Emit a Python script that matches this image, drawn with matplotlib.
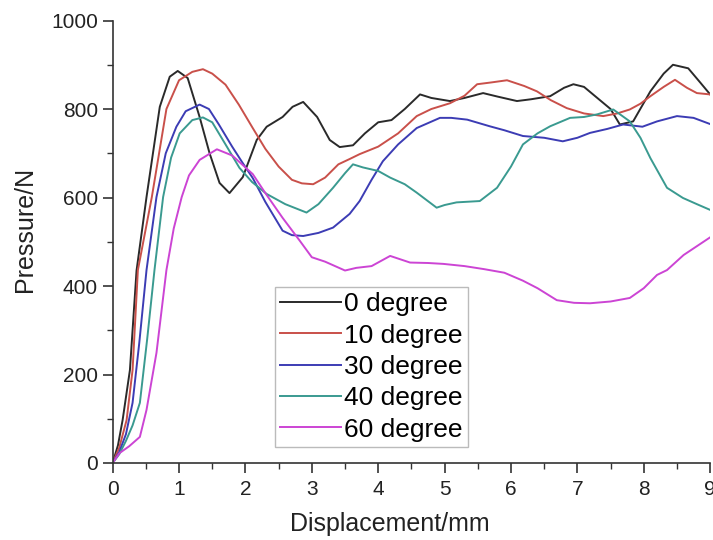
import numpy as np
import matplotlib
matplotlib.use("Agg")
import matplotlib.pyplot as plt
from matplotlib.ticker import MultipleLocator

plt.rcParams['font.family'] = ['Liberation Sans', 'DejaVu Sans']

# displacement (mm) / pressure (N)
black_x = [0, 0.08, 0.15, 0.26, 0.36, 0.51, 0.71, 0.86, 0.98, 1.13, 1.31, 1.46, 1.61, 1.76,
           1.96, 2.17, 2.32, 2.56, 2.71, 2.87, 3.08, 3.27, 3.42, 3.62, 3.8, 4.0, 4.2, 4.4,
           4.63, 4.8, 5.08, 5.3, 5.58, 5.8, 6.09, 6.3, 6.59, 6.8, 6.94, 7.1, 7.3, 7.5,
           7.64, 7.84, 8.1, 8.3, 8.44, 8.67, 8.85, 9.0]
black_y = [0, 40, 97, 210, 435, 601, 805, 873, 886, 870, 782, 700, 633, 610,
           646, 730, 760, 782, 805, 816, 782, 730, 714, 718, 745, 770, 775, 800,
           833, 825, 818, 825, 836, 828, 818, 822, 829, 848, 856, 850, 825, 800,
           765, 772, 840, 880, 900, 892, 860, 833]

red_x = [0, 0.1, 0.21, 0.3, 0.38, 0.59, 0.81, 1.0, 1.2, 1.36, 1.5, 1.7, 1.9, 2.11,
         2.3, 2.5, 2.7, 2.85, 3.02, 3.2, 3.4, 3.57, 3.72, 4.0, 4.3, 4.58, 4.8, 5.08,
         5.3, 5.49, 5.7, 5.94, 6.2, 6.39, 6.6, 6.84, 7.1, 7.39, 7.6, 7.79, 7.95, 8.1,
         8.3, 8.47, 8.65, 8.8, 9.0]
red_y = [0, 35, 97, 210, 436, 601, 800, 865, 884, 890, 880, 855, 810, 757,
         710, 670, 640, 632, 630, 645, 675, 687, 698, 715, 745, 784, 800, 813,
         830, 856, 860, 865, 852, 840, 820, 802, 790, 784, 790, 799, 812, 829,
         850, 866, 848, 836, 833]

blue_x = [0, 0.1, 0.2, 0.3, 0.4, 0.51, 0.66, 0.8, 0.96, 1.1, 1.31, 1.45, 1.6, 1.8,
          1.95, 2.11, 2.3, 2.56, 2.7, 2.87, 3.1, 3.32, 3.57, 3.72, 3.9, 4.07, 4.3, 4.58,
          4.93, 5.1, 5.34, 5.68, 5.9, 6.18, 6.5, 6.78, 7.0, 7.19, 7.45, 7.69, 7.98, 8.2,
          8.5, 8.75, 9.0]
blue_y = [0, 25, 65, 136, 270, 436, 601, 700, 760, 795, 810, 800, 765, 715,
          680, 644, 590, 525, 515, 513, 520, 532, 563, 592, 640, 682, 720, 757,
          780, 780, 776, 761, 752, 739, 735, 727, 735, 746, 755, 765, 760, 772,
          784, 780, 766]

teal_x = [0, 0.1, 0.2, 0.3, 0.41, 0.52, 0.63, 0.76, 0.88, 1.01, 1.2, 1.36, 1.5, 1.7,
          1.91, 2.1, 2.32, 2.6, 2.92, 3.1, 3.32, 3.5, 3.62, 3.77, 4.0, 4.18, 4.4, 4.58,
          4.88, 5.0, 5.18, 5.53, 5.79, 6.0, 6.18, 6.4, 6.59, 6.89, 7.1, 7.3, 7.54, 7.79,
          7.95, 8.1, 8.35, 8.59, 8.8, 9.0]
teal_y = [0, 20, 50, 85, 136, 280, 436, 601, 690, 745, 775, 781, 770, 720,
          667, 635, 608, 585, 566, 585, 622, 655, 675, 668, 660, 645, 630, 611,
          577, 583, 589, 592, 622, 670, 720, 745, 761, 780, 782, 788, 799, 772,
          735, 689, 622, 599, 585, 572]

mag_x = [0, 0.1, 0.25, 0.41, 0.51, 0.66, 0.81, 0.92, 1.04, 1.15, 1.31, 1.57, 1.8, 2.11,
         2.3, 2.56, 2.82, 3.0, 3.2, 3.5, 3.67, 3.9, 4.18, 4.48, 4.75, 4.98, 5.3, 5.6,
         5.9, 6.18, 6.4, 6.69, 6.95, 7.19, 7.5, 7.79, 8.0, 8.2, 8.35, 8.6, 8.8, 9.0]
mag_y = [0, 22, 38, 59, 120, 249, 436, 530, 601, 650, 685, 709, 695, 653,
         610, 554, 502, 465, 455, 435, 441, 445, 468, 453, 452, 450, 445, 438,
         430, 412, 395, 368, 362, 361, 365, 373, 395, 425, 436, 470, 490, 510]

labels = ["0 degree", "10 degree", "30 degree", "40 degree", "60 degree"]
colors = ["#2a2a2a", "#c9504a", "#3c3cb4", "#3a9a90", "#cc44d4"]
series = [(black_x, black_y), (red_x, red_y), (blue_x, blue_y),
          (teal_x, teal_y), (mag_x, mag_y)]

fig = plt.figure(figsize=(7.13, 5.40), dpi=100)
ax = fig.add_axes([0.158, 0.1426, 0.838, 0.8194])

for (xs, ys), lab, col in zip(series, labels, colors):
    ax.plot(xs, ys, color=col, lw=1.4, label=lab)

ax.set_xlim(0, 9)
ax.set_ylim(0, 1000)
ax.xaxis.set_major_locator(MultipleLocator(1))
ax.xaxis.set_minor_locator(MultipleLocator(0.5))
ax.yaxis.set_major_locator(MultipleLocator(200))
ax.yaxis.set_minor_locator(MultipleLocator(100))

for side in ("top", "right"):
    ax.spines[side].set_visible(False)
for side in ("left", "bottom"):
    ax.spines[side].set_color("#333333")
    ax.spines[side].set_linewidth(1.2)

ax.tick_params(which="major", direction="out", length=7, width=1.2,
               color="#333333", labelsize=15, labelcolor="#222222")
ax.tick_params(which="minor", direction="out", length=4, width=1.0, color="#333333")
ax.tick_params(axis="x", pad=5)

ax.set_xlabel("Displacement/mm", fontsize=18, color="#222222")
ax.set_ylabel("Pressure/N", fontsize=18, color="#222222")
ax.xaxis.set_label_coords(0.464, -0.11)
ax.yaxis.set_label_coords(-0.127, 0.527)

leg = ax.legend(loc="upper left", bbox_to_anchor=(0.272, 0.398), borderaxespad=0,
                fontsize=19, handlelength=2.3, handletextpad=0.1, labelspacing=0.28,
                borderpad=0.2, fancybox=False, frameon=True)
leg.get_frame().set_edgecolor("#aaaaaa")
leg.get_frame().set_linewidth(1.0)

fig.savefig("out.png", dpi=100)
